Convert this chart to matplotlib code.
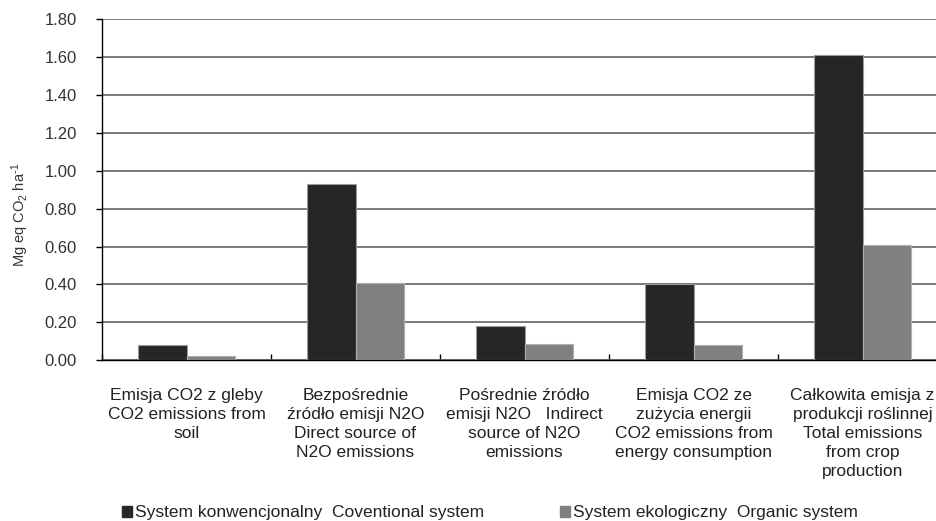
import matplotlib
matplotlib.use("Agg")
import matplotlib.pyplot as plt
import numpy as np
from matplotlib.patches import Patch

plt.rcParams['font.family'] = ['Liberation Sans', 'DejaVu Sans']
plt.rcParams['mathtext.default'] = 'regular'

categories = [
    "Emisja CO2 z gleby\nCO2 emissions from\nsoil",
    "Bezpośrednie\nźródło emisji N2O\nDirect source of\nN2O emissions",
    "Pośrednie źródło\nemisji N2O   Indirect\nsource of N2O\nemissions",
    "Emisja CO2 ze\nzużycia energii\nCO2 emissions from\nenergy consumption",
    "Całkowita emisja z\nprodukcji roślinnej\nTotal emissions\nfrom crop\nproduction",
]
conventional = [0.08, 0.93, 0.18, 0.40, 1.61]
organic = [0.025, 0.41, 0.085, 0.08, 0.61]
series_names = ["System konwencjonalny  Coventional system",
                "System ekologiczny  Organic system"]
yticks = [0.0, 0.2, 0.4, 0.6, 0.8, 1.0, 1.2, 1.4, 1.6, 1.8]

W, H = 937, 521
fig = plt.figure(figsize=(W / 100, H / 100), dpi=100)
ax = fig.add_axes([102 / W, 1 - 360.3 / H, (947 - 102) / W, (360.3 - 19) / H])

x = np.arange(len(categories))
bw = 0.287
dark = "#262626"
gray = "#808080"
ax.bar(x - bw / 2, conventional, bw, color=dark, edgecolor="#9a9a9a", linewidth=0.8, zorder=3)
ax.bar(x + bw / 2, organic, bw, color=gray, edgecolor="#b0b0b0", linewidth=0.8, zorder=3)

ax.set_xlim(-0.5, len(categories) - 0.5)
ax.set_ylim(0, 1.8)
ax.set_yticks(yticks)
ax.set_yticklabels([f"{v:.2f}" for v in yticks], color="#333333", fontsize=12)
ax.yaxis.grid(True, color="#6e6e6e", linewidth=1.3, zorder=0)
ax.set_axisbelow(True)

ax.set_xticks(x)
ax.set_xticklabels(categories, color="#222222", fontsize=12.5, linespacing=1.33, va="top")
ax.tick_params(axis="x", length=0, pad=20)
ax.set_xticks(np.arange(len(categories) + 1) - 0.5, minor=True)
ax.tick_params(axis="x", which="minor", direction="in", length=4, width=1, color="black")
ax.tick_params(axis="y", direction="out", length=4, width=1, pad=14, color="black")

for s in ["top", "right"]:
    ax.spines[s].set_visible(False)
ax.spines["left"].set_color("black")
ax.spines["bottom"].set_color("black")
ax.spines["left"].set_linewidth(1)
ax.spines["bottom"].set_linewidth(1)

fig.text(20 / W, 1 - 215 / H, r"Mg eq CO$_2$ ha$^{\mathrm{‐}1}$", rotation=90,
         ha="center", va="center", fontsize=10.5, color="#333333")

colors = [dark, gray]
anchors = [122, 560]
for name, col, ax0 in zip(series_names, colors, anchors):
    fig.legend([Patch(facecolor=col, edgecolor=col)], [name], loc="center left",
               bbox_to_anchor=(ax0 / W, 1 - 513 / H), frameon=False, fontsize=12.5,
               handlelength=0.6, handleheight=0.6, handletextpad=0.15,
               labelcolor="#222222", borderpad=0, borderaxespad=0)

fig.savefig("out.png", dpi=100)
